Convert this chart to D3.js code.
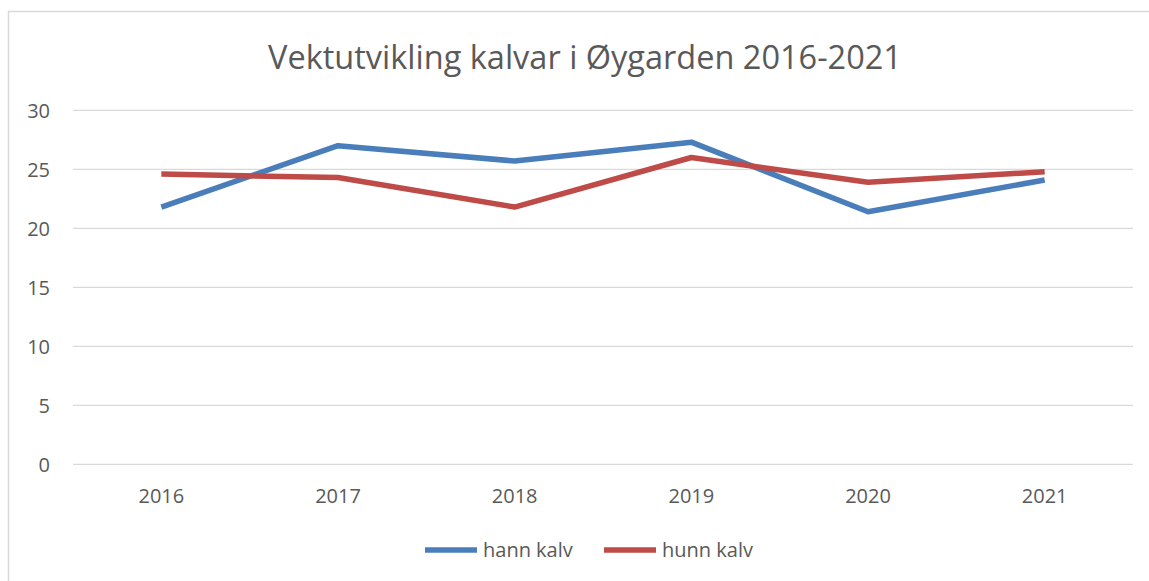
<!DOCTYPE html>
<html>
<head>
<meta charset="utf-8">
<script src="https://cdn.jsdelivr.net/npm/d3@7"></script>
<style>
  html, body { margin: 0; padding: 0; background: #fff; }
  svg { display: block; }
  text { font-family: "Open Sans", "Noto Sans", sans-serif; fill: #595959; }
</style>
</head>
<body>
<svg id="chart" width="1149" height="581"></svg>
<script>
const title = "Vektutvikling kalvar i Øygarden 2016-2021";
const years = ["2016", "2017", "2018", "2019", "2020", "2021"];
const hannKalv = [21.8, 27.0, 25.7, 27.3, 21.4, 24.1];
const hunnKalv = [24.6, 24.3, 21.8, 26.0, 23.9, 24.8];
const yTicks = [0, 5, 10, 15, 20, 25, 30];
const seriesNames = ["hann kalv", "hunn kalv"];
const colors = ["#4a7ebb", "#be4b48"];

const svg = d3.select("#chart");
const W = 1149, H = 581;
const m = { left: 73, right: 1133, top: 110.3, bottom: 464.3 };

// outer border
svg.append("rect")
  .attr("x", 8.5).attr("y", 11.5)
  .attr("width", W + 20).attr("height", H + 20)
  .attr("fill", "none").attr("stroke", "#d9d9d9").attr("stroke-width", 1.5);

const x = d3.scaleBand().domain(years).range([m.left, m.right]);
const y = d3.scaleLinear().domain([0, 30]).range([m.bottom, m.top]);

// gridlines
svg.append("g").selectAll("line").data(yTicks).join("line")
  .attr("x1", m.left).attr("x2", m.right)
  .attr("y1", d => y(d)).attr("y2", d => y(d))
  .attr("stroke", "#d9d9d9").attr("stroke-width", 1.3);

// y axis labels
const yAxis = d3.axisLeft(y).tickValues(yTicks).tickSize(0).tickPadding(0);
const gy = svg.append("g").attr("transform", `translate(50,1)`).call(yAxis);
gy.select(".domain").remove();
gy.selectAll("text").style("font-size", "20px").attr("fill", "#595959")
  .style("font-family", '"Open Sans", sans-serif');

// x axis labels
const xAxis = d3.axisBottom(x).tickSize(0).tickPadding(0);
const gx = svg.append("g").attr("transform", `translate(0,${m.bottom + 24})`).call(xAxis);
gx.select(".domain").remove();
gx.selectAll("text").style("font-size", "20px").attr("fill", "#595959")
  .style("font-family", '"Open Sans", sans-serif');

// lines
const line = d3.line().x((d, i) => x(years[i]) + x.bandwidth() / 2).y(d => y(d));
[hannKalv, hunnKalv].forEach((s, k) => {
  svg.append("path").datum(s)
    .attr("d", line)
    .attr("fill", "none").attr("stroke", colors[k])
    .attr("stroke-width", 5.5).attr("stroke-linejoin", "round").attr("stroke-linecap", "butt");
});

// title
svg.append("text").attr("x", 585).attr("y", 69).attr("text-anchor", "middle")
  .style("font-size", "32.5px").text(title);

// legend
const legendX = [425, 604];
seriesNames.forEach((n, k) => {
  const g = svg.append("g").attr("transform", `translate(${legendX[k]},550)`);
  g.append("line").attr("x1", 0).attr("x2", 52).attr("y1", 0).attr("y2", 0)
    .attr("stroke", colors[k]).attr("stroke-width", 5.5);
  g.append("text").attr("x", 58).attr("y", 7).style("font-size", "20px").text(n);
});
</script>
</body>
</html>
